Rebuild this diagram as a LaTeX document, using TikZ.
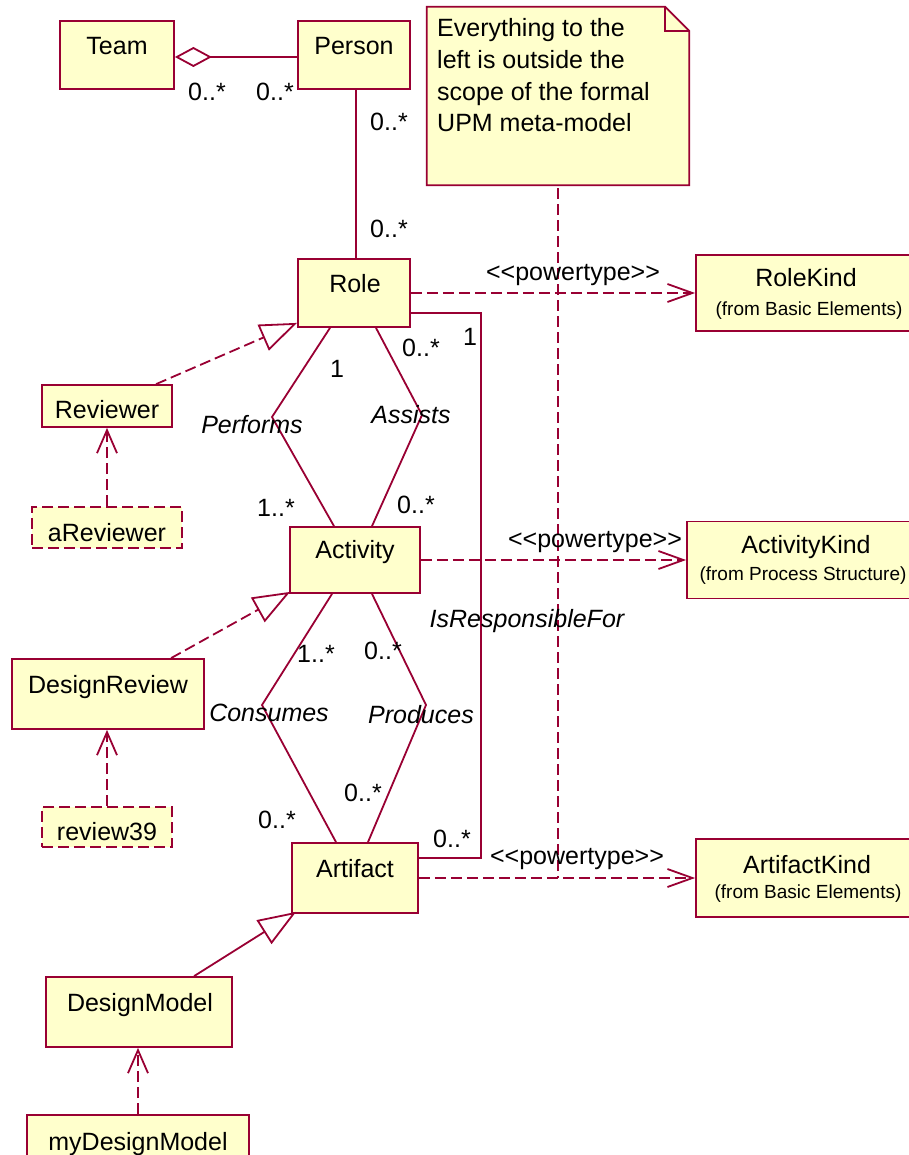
\documentclass[tikz,border=0pt]{standalone}
\usepackage{fontspec}
\setmainfont{Liberation Sans}
\usetikzlibrary{arrows.meta,calc}
\definecolor{umlline}{RGB}{153,0,51}
\definecolor{umlfill}{RGB}{255,255,204}
\tikzset{
  cls/.style={draw=umlline, fill=umlfill, line width=1.8pt, rectangle, inner sep=0pt},
  inst/.style={cls, dash pattern=on 11pt off 5pt},
  txt/.style={anchor=base, inner sep=0pt, font=\fontsize{25}{30}\selectfont},
  small/.style={anchor=base, inner sep=0pt, font=\fontsize{19}{22}\selectfont},
  itxt/.style={txt, font=\fontsize{25}{30}\selectfont\itshape},
  assoc/.style={draw=umlline, line width=1.8pt},
  dashline/.style={draw=umlline, line width=1.8pt, dash pattern=on 11pt off 5pt},
  ptype/.style={dashline, -{Straight Barb[length=25pt, width=18pt, line width=1.8pt]}},
  depend/.style={dashline, -{Straight Barb[length=23pt, width=20pt, line width=1.8pt]}},
  realize/.style={dashline, -{Triangle[open, length=37pt, width=28pt, line width=1.8pt]}},
  general/.style={assoc, -{Triangle[open, length=38pt, width=28pt, line width=1.8pt]}},
}
\begin{document}
\begin{tikzpicture}[x=1pt, y=-1pt]
\useasboundingbox (0,0) rectangle (909,1155);

% class boxes
\node[cls, minimum width=114pt, minimum height=68pt] (team) at (117,55) {};
\node[cls, minimum width=112pt, minimum height=68pt] (person) at (354,55) {};
\node[cls, minimum width=112pt, minimum height=68pt] (role) at (354,293) {};
\node[cls, minimum width=130pt, minimum height=66pt] (activity) at (355,560) {};
\node[cls, minimum width=126pt, minimum height=70pt] (artifact) at (355,878) {};
\node[cls, minimum width=219pt, minimum height=76pt] (rolekind) at (805.5,293) {};
\node[cls, minimum width=228pt, minimum height=77pt] (activitykind) at (801,560) {};
\node[cls, minimum width=219pt, minimum height=78pt] (artifactkind) at (805.5,878) {};
\node[cls, minimum width=130pt, minimum height=42pt] (reviewer) at (107,406) {};
\node[inst, minimum width=150pt, minimum height=41pt] (areviewer) at (107,527.5) {};
\node[cls, minimum width=192pt, minimum height=70pt] (designreview) at (108,694) {};
\node[inst, minimum width=130pt, minimum height=40pt] (review39) at (107,827) {};
\node[cls, minimum width=186pt, minimum height=70pt] (designmodel) at (139,1012) {};
\node[cls, minimum width=222pt, minimum height=60pt] (mydesignmodel) at (138,1145) {};

% note with folded corner
\node[minimum width=262pt, minimum height=178pt, inner sep=0pt] (note) at (558,96) {};
\draw[draw=umlline, fill=umlfill, line width=1.8pt, line join=miter]
  (note.north west) -- ($(note.north east)+(-24,0)$) -- ($(note.north east)+(0,24)$)
  -- (note.south east) -- (note.south west) -- cycle;
\draw[draw=umlline, line width=1.8pt]
  ($(note.north east)+(-24,0)$) -- ($(note.north east)+(-24,24)$) -- ($(note.north east)+(0,24)$);
\node[anchor=north west, inner sep=0pt, align=left, font=\fontsize{25}{31.7}\selectfont] (notetext) at (437,18.5)
  {Everything to the\\left is outside the\\scope of the formal\\UPM meta-model};

% class names
\node[txt] (teamT) at (117,55) {Team};
\node[txt] (personT) at (354,55) {Person};
\node[txt] (roleT) at (355,293) {Role};
\node[txt] (activityT) at (355,558) {Activity};
\node[txt] (artifactT) at (355,877) {Artifact};
\node[txt] (rolekindT) at (806,287) {RoleKind};
\node[small] (rolekindS) at (809,315) {(from Basic Elements)};
\node[txt] (activitykindT) at (806,553) {ActivityKind};
\node[small] (activitykindS) at (803,580) {(from Process Structure)};
\node[txt] (artifactkindT) at (807,873) {ArtifactKind};
\node[small] (artifactkindS) at (808,898) {(from Basic Elements)};
\node[txt] (reviewerT) at (107,418) {Reviewer};
\node[txt] (areviewerT) at (107,541) {aReviewer};
\node[txt] (designreviewT) at (108,693) {DesignReview};
\node[txt] (review39T) at (107,840) {review39};
\node[txt] (designmodelT) at (140,1011) {DesignModel};
\node[txt] (mydesignmodelT) at (138,1150) {myDesignModel};

% associations
\draw[assoc, {Diamond[open, length=37pt, width=20pt, line width=1.8pt]}-]
  ($(team.east)+(0,2)$) -- ($(person.west)+(0,2)$);
\draw[assoc] ($(person.south)+(2,0)$) -- ($(role.north)+(2,0)$);
\draw[assoc] ($(role.south)+(-24,0)$) -- (272,417) -- ($(activity.north)+(-21,0)$);
\draw[assoc] ($(role.south)+(22,0)$) -- (422,415) -- ($(activity.north)+(17,0)$);
\draw[assoc] ($(activity.south)+(-23,0)$) -- (262,705) -- ($(artifact.north)+(-19,0)$);
\draw[assoc] ($(activity.south)+(17,0)$) -- (426,705) -- ($(artifact.north)+(13,0)$);
\draw[assoc] ($(role.east)+(0,20)$) -- ++(70,0) |- ($(artifact.east)+(0,-20)$);

% note anchor line
\draw[dashline] ($(note.south)+(0,3)$) -- (note.south |- artifact.east);

% powertype dependencies
\draw[ptype] (role.east) -- (rolekind.west);
\draw[ptype] (activity.east) -- (activitykind.west);
\draw[ptype] (artifact.east) -- (artifactkind.west);

% instance dependencies
\draw[depend] (areviewer.north) -- (reviewer.south);
\draw[depend] (review39.north) -- (review39.north |- designreview.south);
\draw[depend] (mydesignmodel.north) -- (mydesignmodel.north |- designmodel.south);

% realizations and generalization
\draw[realize] ($(reviewer.north west)+(115,0)$) -- ($(role.south west)+(0,-5)$);
\draw[realize] ($(designreview.north west)+(160,0)$) -- ($(activity.south west)+(1,-2)$);
\draw[general] ($(designmodel.north west)+(149,0)$) -- ($(artifact.south west)+(5,-2)$);

% association labels
\node[txt] (pt1) at (573,280) {<{}<powertype>{}>};
\node[txt] (pt2) at (595,547) {<{}<powertype>{}>};
\node[txt] (pt3) at (577,864) {<{}<powertype>{}>};
\node[itxt] (performs) at (252,433) {Performs};
\node[itxt] (assists) at (411,423) {Assists};
\node[itxt] (consumes) at (269,721) {Consumes};
\node[itxt] (produces) at (421,723) {Produces};
\node[itxt] (isresp) at (527,627) {IsResponsibleFor};

% multiplicities
\node[txt] (m1) at (207,101) {0..*};
\node[txt] (m2) at (275,101) {0..*};
\node[txt] (m3) at (389,131) {0..*};
\node[txt] (m4) at (389,238) {0..*};
\node[txt] (m5) at (337,377) {1};
\node[txt] (m6) at (421,356) {0..*};
\node[txt] (m7) at (470,345) {1};
\node[txt] (m8) at (276,516) {1..*};
\node[txt] (m9) at (416,513) {0..*};
\node[txt] (m10) at (316,662) {1..*};
\node[txt] (m11) at (383,659) {0..*};
\node[txt] (m12) at (363,801) {0..*};
\node[txt] (m13) at (277,828) {0..*};
\node[txt] (m14) at (452,847) {0..*};
\end{tikzpicture}
\end{document}
